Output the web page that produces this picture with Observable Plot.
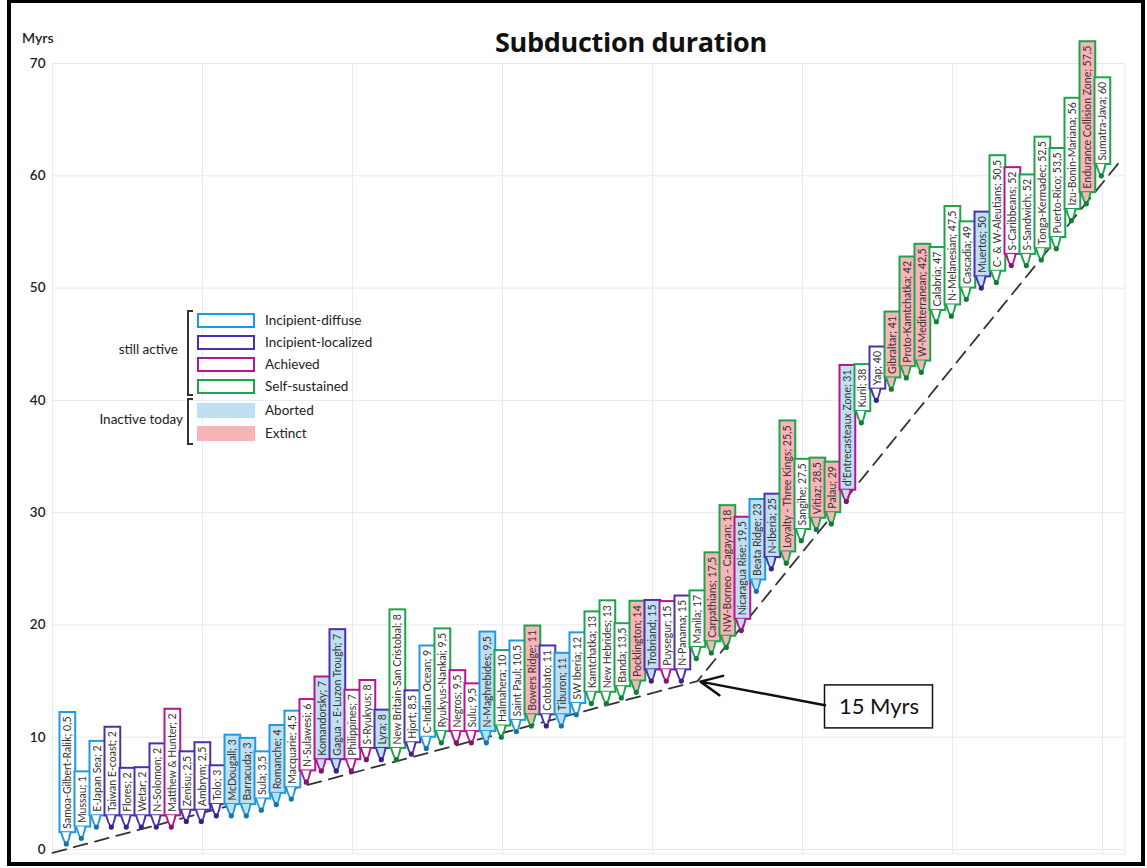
<!DOCTYPE html>
<html>
<head>
<meta charset="utf-8">
<script src="https://cdn.jsdelivr.net/npm/d3@7"></script>
<script src="https://cdn.jsdelivr.net/npm/@observablehq/plot@0.6"></script>
<style>
  body { margin: 0; background: #fff; font-family: Lato, "Open Sans", sans-serif; }
  #wrap { position: relative; width: 1147px; height: 868px; overflow: hidden; }
  #wrap svg { position: absolute; left: 0; top: 0; }
  .frame-border { position: absolute; left: 7px; top: -1px; width: 1138px; height: 867px; box-sizing: border-box; border: 4px solid #000; pointer-events: none; }
  .title { position: absolute; left: 431px; top: 27px; width: 400px; text-align: center; font: 700 27px/30px "Open Sans", Lato, sans-serif; letter-spacing: -0.3px; color: #111; }
  .unit { position: absolute; left: 22px; top: 31px; font: 600 14px/14px Lato, sans-serif; color: #222; }
  .legend { position: absolute; left: 0; top: 0; width: 1147px; height: 868px; font-family: Lato, sans-serif; color: #222; pointer-events: none; }
  .legend .sw { position: absolute; left: 197px; width: 58px; height: 15px; box-sizing: border-box; }
  .legend .lab { position: absolute; left: 265px; font-size: 13.5px; line-height: 16px; white-space: nowrap; }
  .legend .grp { position: absolute; width: 120px; font-size: 13.5px; line-height: 16px; white-space: nowrap; text-align: right; }
  .legend .br { position: absolute; left: 187px; width: 6px; box-sizing: border-box; border: 2px solid #333; border-right: none; }
</style>
</head>
<body>
<div id="wrap"></div>
<script>
// Subduction zones, ordered by duration of subduction (Myrs)
const zones = [
  "Samoa-Gilbert-Ralik", "Mussau", "E-Japan Sea", "Taiwan E-coast", "Flores", "Wetar", "N-Solomon",
  "Matthew & Hunter", "Zenisu", "Ambrym", "Tolo", "McDougall", "Barracuda", "Sula", "Romanche",
  "Macquarie", "N-Sulawesi", "Komandorsky", "Gagua - E-Luzon Trough", "Philippines", "S-Ryukyus",
  "Lyra", "New Britain-San Cristobal", "Hjort", "C-Indian Ocean", "Ryukyus-Nankai", "Negros", "Sulu",
  "N-Maghrebides", "Halmahera", "Saint Paul", "Bowers Ridge", "Cotobato", "Tiburon", "SW Iberia",
  "Kamtchatka", "New Hebrides", "Banda", "Pocklington", "Trobriand", "Puysegur", "N-Panama", "Manila",
  "Carpathians", "NW-Borneo - Cagayan", "Nicaragua Rise", "Beata Ridge", "N-Iberia",
  "Loyalty - Three Kings", "Sangihe", "Vitiaz", "Palau", "d'Entrecasteaux Zone", "Kuril", "Yap",
  "Gibraltar", "Proto-Kamtchatka", "W-Mediterranean", "Calabria", "N-Melanesian", "Cascadia",
  "Muertos", "C- & W-Aleutians", "S-Caribbeans", "S-Sandwich", "Tonga-Kermadec", "Puerto-Rico",
  "Izu-Bonin-Mariana", "Endurance Collision Zone", "Sumatra-Java"
];
const durations = [
  0.5, 1, 2, 2, 2, 2, 2,
  2, 2.5, 2.5, 3, 3, 3, 3.5, 4,
  4.5, 6, 7, 7, 7, 8,
  8, 8, 8.5, 9, 9.5, 9.5, 9.5,
  9.5, 10, 10.5, 11, 11, 11, 12,
  13, 13, 13.5, 14, 15, 15, 15, 17,
  17.5, 18, 19.5, 23, 25,
  25.5, 27.5, 28.5, 29, 31, 38, 40,
  41, 42, 42.5, 47, 47.5, 49,
  50, 50.5, 52, 52, 52.5, 53.5,
  56, 57.5, 60
];
// Stage reached: D = incipient-diffuse, L = incipient-localized, A = achieved, S = self-sustained
const stages = [
  "D", "D", "D", "L", "L", "L", "L",
  "A", "L", "L", "L", "D", "D", "D", "D",
  "D", "A", "A", "L", "A", "A",
  "L", "S", "L", "D", "S", "A", "A",
  "D", "S", "D", "S", "L", "D", "D",
  "S", "S", "S", "S", "L", "A", "L", "S",
  "S", "S", "A", "D", "L",
  "S", "S", "S", "S", "A", "S", "L",
  "S", "S", "S", "S", "S", "S",
  "L", "S", "A", "S", "S", "S",
  "S", "S", "S"
];
// Present-day state: active, aborted or extinct
const states = [
  "active", "active", "active", "active", "active", "active", "active",
  "active", "active", "active", "active", "aborted", "aborted", "active", "aborted",
  "active", "active", "aborted", "aborted", "active", "active",
  "aborted", "active", "active", "active", "active", "active", "active",
  "aborted", "active", "active", "extinct", "active", "aborted", "active",
  "active", "active", "active", "extinct", "aborted", "active", "active", "active",
  "extinct", "extinct", "aborted", "aborted", "aborted",
  "extinct", "active", "extinct", "extinct", "aborted", "active", "active",
  "extinct", "extinct", "extinct", "active", "active", "active",
  "aborted", "active", "active", "active", "active", "active",
  "active", "extinct", "active"
];
// Minimum-duration envelope (dashed), with its break at 15 Myrs
const envelope = [
  {x: 0, y: -0.3},
  {x: 43, y: 15},
  {x: 71.3, y: 61.5}
];
const callout = {label: "15 Myrs", x: 43, y: 15, boxX: 55.1, boxY: 12.7};

const stageNames = {D: "Incipient-diffuse", L: "Incipient-localized", A: "Achieved", S: "Self-sustained"};
const stageColor = {D: "#1f9ae0", L: "#4a2fb0", A: "#b4168f", S: "#1aa54a"};
const stateFill = {active: "#ffffff", aborted: "#bfe0f2", extinct: "#f8b5b8"};

// Layout
const W = 1147, H = 868;
const mL = 52, mR = 22.5, mT = 63, mB = 14.5;
const xDomain = [0, 71.5], yDomain = [-0.4, 70];
const ppy = (H - mT - mB) / (yDomain[1] - yDomain[0]);
const ppx = (W - mL - mR) / (xDomain[1] - xDomain[0]);
const labelSize = 10.5;
const tail = 1.0; // gap between a box and its point, in Myrs

const ctx = document.createElement("canvas").getContext("2d");
ctx.font = `${labelSize}px Lato`;

const fmt = v => String(v).replace(".", ",");
const rows = zones.map((name, k) => {
  const value = durations[k];
  const label = `${name}; ${fmt(value)}`;
  const bottom = value + tail;
  const top = bottom + (ctx.measureText(label).width + 8) / ppy;
  return {i: k + 1, name, value, label, stage: stages[k], state: states[k], bottom, top};
});

// Callout tails: a narrow wedge from each box down to its point
const tailFill = rows.flatMap(d => [
  {z: d.i, x: d.i - 0.42, y1: d.bottom, y2: d.bottom, state: d.state},
  {z: d.i, x: d.i - 0.08, y1: d.value, y2: d.bottom, state: d.state},
  {z: d.i, x: d.i + 0.2, y1: d.bottom, y2: d.bottom, state: d.state}
]);
const tailLine = rows.flatMap(d => [
  {z: d.i, x: d.i - 0.42, y: d.bottom, stage: d.stage},
  {z: d.i, x: d.i - 0.08, y: d.value, stage: d.stage},
  {z: d.i, x: d.i + 0.2, y: d.bottom, stage: d.stage}
]);

const ticks = d3.range(0, 71, 10);
const gridColor = "#e6e9f2";
const bw = 54 / ppx, bh = 21.5 / ppy;

const chart = Plot.plot({
  width: W, height: H,
  marginLeft: mL, marginRight: mR, marginTop: mT, marginBottom: mB,
  style: {background: "transparent", fontFamily: "Lato, sans-serif", overflow: "visible"},
  x: {domain: xDomain, axis: null},
  y: {domain: yDomain, axis: null},
  marks: [
    Plot.gridX(ticks, {stroke: gridColor, strokeOpacity: 1, strokeWidth: 1}),
    Plot.gridY(ticks, {stroke: gridColor, strokeOpacity: 1, strokeWidth: 1}),
    Plot.frame({stroke: gridColor, strokeWidth: 1}),
    Plot.axisY(ticks, {tickSize: 0, tickPadding: 7, fontSize: 13.5, fontWeight: 600, fill: "#222", label: null}),
    Plot.line(envelope, {x: "x", y: "y", stroke: "#333", strokeWidth: 1.8, strokeDasharray: "14,8"}),
    Plot.rect(rows, {
      x1: d => d.i - 0.5, x2: d => d.i + 0.55, y1: "bottom", y2: "top",
      fill: d => stateFill[d.state], stroke: d => stageColor[d.stage], strokeWidth: 2
    }),
    Plot.areaY(tailFill, {x: "x", y1: "y1", y2: "y2", z: "z", fill: d => stateFill[d.state], curve: "linear"}),
    Plot.line(tailLine, {x: "x", y: "y", z: "z", stroke: d => stageColor[d.stage], strokeWidth: 2, curve: "catmull-rom"}),
    Plot.dot(rows, {x: d => d.i - 0.08, y: "value", r: 2.6, fill: d => d3.color(stageColor[d.stage]).darker(0.8).formatHex(), stroke: "none"}),
    Plot.text(rows, {
      x: d => d.i + 0.03, y: d => d.bottom + 4 / ppy, text: "label",
      rotate: -90, textAnchor: "start", lineAnchor: "middle",
      fontSize: labelSize, fill: "#333"
    }),
    // 15 Myrs callout
    Plot.rect([callout], {
      x1: d => d.boxX - bw, x2: d => d.boxX + bw, y1: d => d.boxY - bh, y2: d => d.boxY + bh,
      fill: "white", stroke: "#111", strokeWidth: 1.5
    }),
    Plot.text([callout], {x: "boxX", y: "boxY", text: "label", fontSize: 22, fill: "#111"}),
    Plot.arrow([callout], {
      x1: d => d.boxX - bw, y1: d => d.boxY + 0.15, x2: "x", y2: "y",
      stroke: "#111", strokeWidth: 2.5, headLength: 14, headAngle: 50, insetEnd: 3
    })
  ]
});

const wrap = document.getElementById("wrap");
wrap.appendChild(chart);

// Title and unit
wrap.insertAdjacentHTML("beforeend", `<div class="title">Subduction duration</div><div class="unit">Myrs</div>`);

// Legend
const legend = document.createElement("div");
legend.className = "legend";
const swTops = [313, 335, 357, 379, 403, 426];
const entries = [
  ...["D", "L", "A", "S"].map(s => ({label: stageNames[s], border: `2.5px solid ${stageColor[s]}`, bg: "#fff"})),
  {label: "Aborted", border: "none", bg: stateFill.aborted},
  {label: "Extinct", border: "none", bg: stateFill.extinct}
];
entries.forEach((e, k) => {
  legend.insertAdjacentHTML("beforeend",
    `<div class="sw" style="top:${swTops[k]}px;border:${e.border};background:${e.bg}"></div>` +
    `<div class="lab" style="top:${swTops[k] - 1}px">${e.label}</div>`);
});
legend.insertAdjacentHTML("beforeend",
  `<div class="br" style="top:310px;height:86px"></div>` +
  `<div class="br" style="top:398px;height:47px"></div>` +
  `<div class="grp" style="top:341px;left:${178 - 120}px">still active</div>` +
  `<div class="grp" style="top:411px;left:${183 - 120}px">Inactive today</div>`);
wrap.appendChild(legend);
wrap.insertAdjacentHTML("beforeend", `<div class="frame-border"></div>`);
</script>
</body>
</html>
